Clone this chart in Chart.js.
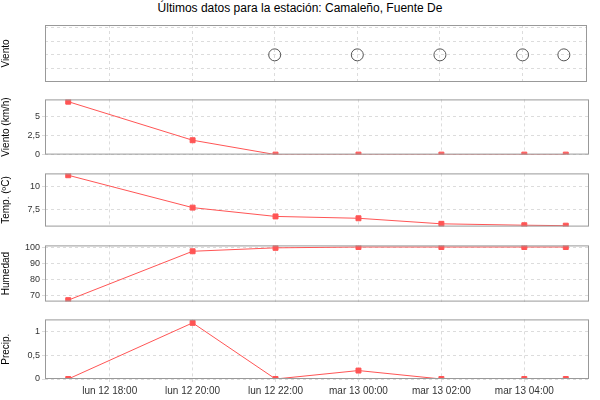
<!DOCTYPE html>
<html>
<head>
<meta charset="utf-8">
<script src="https://cdn.jsdelivr.net/npm/chart.js@4"></script>
<style>
  body { margin: 0; background: #fff; }
  #wrap { position: relative; width: 600px; height: 400px; }
  #title { position: absolute; top: 0; left: 0; width: 600px; text-align: center;
           font: 12px "Liberation Sans", Arial, sans-serif; color: #000; line-height: 16px; }
  .panel { position: absolute; left: 0; width: 594px; }
</style>
</head>
<body>
<div id="wrap">
  <div id="title">Últimos datos para la estación: Camaleño, Fuente De</div>
</div>
<script>
// hours since lun 12 00:00
const times = [17, 20, 22, 24, 26, 28, 29];
const xTicks = [18, 20, 22, 24, 26, 28];
const xTickLabels = ['lun 12 18:00', 'lun 12 20:00', 'lun 12 22:00', 'mar 13 00:00', 'mar 13 02:00', 'mar 13 04:00'];

const windDir = [null, null, 2, 2, 2, 2, 2];
const windSpeed = [7.0, 1.9, 0, 0, 0, 0, 0];
const temperature = [11.2, 7.7, 6.75, 6.55, 5.95, 5.8, 5.75];
const humidity = [67.4, 97.4, 99.5, 100, 100, 100, 100];
const precip = [0, 1.13, 0, 0.17, 0, 0, 0];
const precipTickLabels = ['0', '0,2', '0,5', '0,8', '1', '1,2'];

const FONT = '"Liberation Sans", Arial, sans-serif';

const frame = {
  id: 'frame',
  afterDraw(chart) {
    const a = chart.chartArea, ctx = chart.ctx;
    ctx.save();
    ctx.strokeStyle = '#999';
    ctx.lineWidth = 1;
    ctx.strokeRect(a.left + 0.5, a.top + 0.5, a.right - a.left - 1, a.bottom - a.top - 1);
    ctx.restore();
  }
};

function makePanel(top, height, cfg) {
  const div = document.createElement('div');
  div.className = 'panel';
  div.style.top = top + 'px';
  div.style.height = height + 'px';
  const canvas = document.createElement('canvas');
  div.appendChild(canvas);
  document.getElementById('wrap').appendChild(div);

  const pts = cfg.values.map((v, i) => ({ x: times[i], y: v }));
  const ds = cfg.wind ? {
    data: pts, showLine: false, pointStyle: 'circle', pointRadius: 6,
    pointBorderColor: '#555', pointBackgroundColor: 'rgba(0,0,0,0)', pointBorderWidth: 1
  } : {
    data: pts, borderColor: '#ff5555', borderWidth: 1, pointStyle: 'rect',
    pointRadius: 3.5, pointBackgroundColor: '#ff5555', pointBorderColor: '#ff5555'
  };

  new Chart(canvas, {
    type: 'line',
    data: { datasets: [ds] },
    options: {
      responsive: true,
      maintainAspectRatio: false,
      animation: false,
      layout: { padding: 0 },
      plugins: { legend: { display: false }, tooltip: { enabled: false } },
      scales: {
        x: {
          type: 'linear', min: 16.44, max: 29.56,
          afterBuildTicks: s => { s.ticks = xTicks.map(v => ({ value: v })); },
          ticks: {
            display: !!cfg.bottom, maxRotation: 0, autoSkip: false,
            font: { family: FONT, size: 10 }, color: '#333',
            callback: v => xTickLabels[xTicks.indexOf(v)]
          },
          grid: { color: '#dcdcdc', drawTicks: !!cfg.bottom, tickLength: 3 },
          border: { display: false, dash: [3, 3] },
          afterFit: s => { if (!cfg.bottom) s.height = 0; }
        },
        y: {
          min: cfg.min, max: cfg.max,
          afterBuildTicks: s => { s.ticks = cfg.ticks.map(v => ({ value: v })); },
          ticks: {
            display: !cfg.wind, font: { family: FONT, size: 9 }, color: '#333', padding: 2,
            callback: cfg.label || (v => String(v).replace('.', ','))
          },
          grid: { color: '#dcdcdc', drawTicks: !cfg.wind, tickLength: 3 },
          border: { display: false, dash: [3, 3] },
          title: { display: true, text: cfg.title, font: { family: FONT, size: 10 }, color: '#000', padding: 0 },
          afterFit: s => { s.width = 45; }
        }
      }
    },
    plugins: [frame]
  });
}

makePanel(18, 71, { title: 'Viento', values: windDir, wind: true, min: 0, max: 4.2, ticks: [1, 2, 3, 4] });
makePanel(92, 70, { title: 'Viento (km/h)', values: windSpeed, min: 0, max: 7.3, ticks: [0, 2.5, 5] });
makePanel(166, 68, { title: 'Temp. (ºC)', values: temperature, min: 5.65, max: 11.4, ticks: [7.5, 10] });
makePanel(238, 71, { title: 'Humedad', values: humidity, min: 66.5, max: 101, ticks: [70, 80, 90, 100] });
makePanel(312, 88, {
  title: 'Precip.', values: precip, min: 0, max: 1.2, bottom: true,
  ticks: [0, 0.24, 0.48, 0.72, 0.96, 1.2],
  label: (v, i) => precipTickLabels[i]
});
</script>
</body>
</html>
